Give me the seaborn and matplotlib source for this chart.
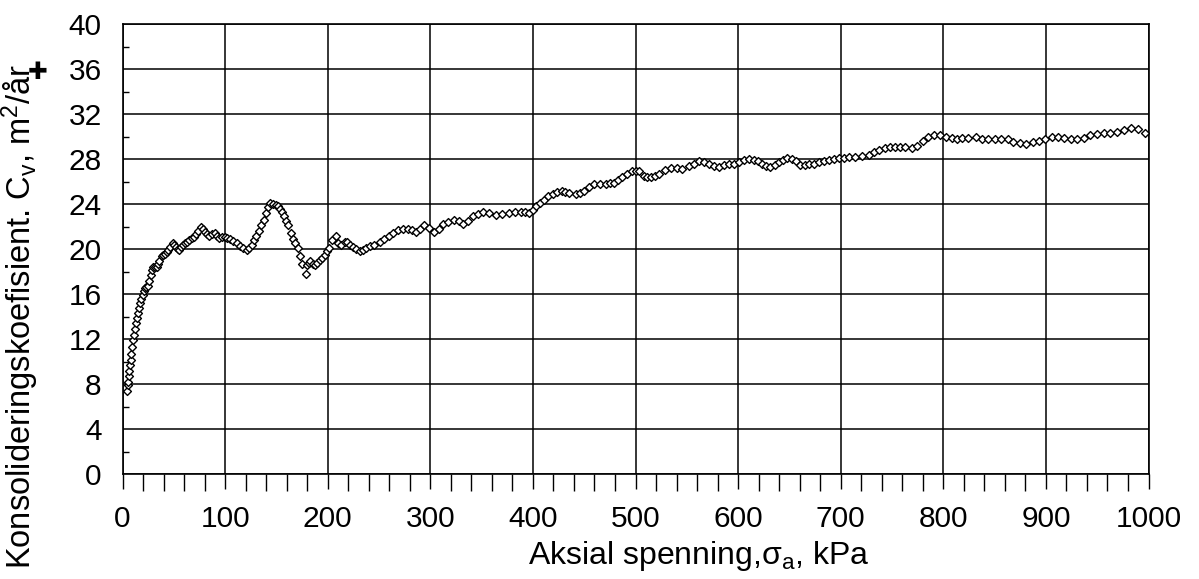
import matplotlib
matplotlib.use("Agg")
import matplotlib.pyplot as plt
from matplotlib.ticker import MultipleLocator
import pandas as pd
import seaborn as sns

# Axial stress (kPa) and consolidation coefficient Cv (m2/year)
stress = [4.7, 5.2, 5.6, 6.1, 6.6, 7.3, 8.0, 8.7, 9.5, 10.3, 11.2, 12.0, 12.8, 13.8, 14.8,
          15.9, 17.0, 18.3, 19.6, 20.8, 21.9, 23.2, 24.5, 26.1, 27.3, 28.4, 30.0, 31.6, 33.3,
          34.6, 35.8, 38.1, 39.7, 41.3, 43.0, 44.6, 46.7, 48.8, 50.4, 52.0, 53.7, 55.3, 57.0,
          58.6, 60.5, 62.5, 64.9, 67.3, 69.4, 71.5, 73.8, 76.1, 78.2, 80.3, 82.4, 84.4, 87.2,
          90.0, 92.1, 94.2, 97.0, 99.7, 102.2, 104.6, 107.8, 111.1, 114.3, 117.5, 121.4, 123.5,
          125.7, 128.1, 130.5, 133.0, 135.4, 137.5, 139.6, 142.0, 144.2, 146.8, 149.3, 151.2,
          153.2, 155.3, 157.4, 159.4, 161.3, 163.9, 165.8, 167.8, 171.0, 172.7, 175.3, 178.5,
          179.8, 181.5, 183.1, 185.2, 187.3, 189.7, 192.1, 194.5, 197.0, 199.2, 201.2, 204.5,
          207.7, 209.9, 213.2, 216.4, 219.0, 221.5, 224.5, 228.0, 231.7, 234.5, 237.5, 240.8,
          245.5, 250.5, 255.0, 260.2, 264.0, 268.3, 273.0, 278.0, 282.0, 286.2, 290.0, 294.3,
          299.0, 304.0, 308.0, 312.1, 317.5, 323.4, 328.0, 332.2, 336.5, 341.2, 346.0, 351.0,
          357.5, 364.0, 370.0, 377.0, 383.0, 388.3, 392.5, 396.4, 400.0, 403.0, 407.0, 411.0,
          415.0, 419.1, 423.5, 428.2, 431.5, 435.3, 441.8, 446.0, 449.9, 455.0, 459.6, 465.0,
          471.0, 475.0, 479.1, 483.0, 487.2, 492.0, 496.9, 500.2, 503.4, 508.3, 511.5, 514.8,
          518.5, 522.9, 528.5, 534.2, 540.0, 545.5, 552.0, 557.0, 561.8, 566.5, 571.5, 576.5,
          581.2, 586.0, 591.0, 596.0, 600.7, 605.5, 610.4, 615.3, 619.5, 623.4, 627.5, 631.5,
          635.5, 639.6, 643.5, 647.7, 652.5, 656.5, 660.7, 664.8, 668.8, 673.5, 678.5, 683.5,
          688.2, 693.0, 698.0, 703.0, 707.7, 714.0, 720.6, 727.1, 732.0, 736.9, 743.4, 748.5,
          753.1, 758.0, 762.8, 769.3, 774.8, 780.0, 785.5, 791.3, 796.9, 802.7, 808.0, 813.0,
          818.5, 824.4, 831.5, 838.0, 844.0, 850.4, 856.5, 862.7, 868.2, 874.7, 880.6, 887.0,
          893.2, 899.0, 905.5, 912.0, 917.8, 924.3, 930.7, 937.0, 943.4, 949.9, 956.4, 962.8,
          969.4, 976.2, 982.7, 989.8, 996.2]
cv = [7.4, 7.9, 8.2, 8.7, 9.2, 9.7, 10.1, 10.7, 11.3, 11.9, 12.4, 12.9, 13.4, 13.9, 14.3,
      14.8, 15.2, 15.6, 15.9, 16.3, 16.5, 16.6, 16.7, 17.2, 17.7, 18.1, 18.4, 18.4, 18.4,
      18.7, 18.9, 19.4, 19.5, 19.6, 19.7, 19.9, 20.2, 20.5, 20.4, 20.2, 20.0, 19.9, 20.2,
      20.4, 20.5, 20.6, 20.8, 21.0, 21.1, 21.3, 21.6, 22.0, 21.8, 21.5, 21.3, 21.2, 21.3,
      21.4, 21.2, 21.0, 21.1, 21.1, 21.0, 20.9, 20.7, 20.5, 20.3, 20.1, 19.9, 20.1,
      20.4, 20.8, 21.2, 21.6, 22.1, 22.6, 23.2, 23.7, 24.1, 24.0, 23.9, 23.8,
      23.6, 23.3, 22.9, 22.5, 22.1, 21.4, 20.9, 20.5, 20.1, 19.4, 18.7, 17.8,
      18.6, 18.8, 18.9, 18.7, 18.6, 18.8, 19.0, 19.2, 19.5, 19.8, 20.1, 20.8,
      21.2, 20.5, 20.4, 20.6, 20.6, 20.4, 20.2, 20.0, 19.8, 19.9, 20.1, 20.3,
      20.4, 20.6, 20.9, 21.2, 21.4, 21.7, 21.8, 21.8, 21.7, 21.5, 21.8, 22.1,
      21.9, 21.5, 21.8, 22.2, 22.4, 22.6, 22.5, 22.2, 22.5, 22.9, 23.1, 23.3,
      23.2, 23.0, 23.1, 23.2, 23.3, 23.3, 23.3, 23.2, 23.5, 23.8, 24.1, 24.4,
      24.7, 24.9, 25.1, 25.2, 25.1, 25.0, 24.9, 25.0, 25.2, 25.5, 25.8, 25.8,
      25.8, 25.9, 25.9, 26.1, 26.4, 26.7, 26.9, 26.9, 26.9, 26.5, 26.4, 26.4,
      26.5, 26.7, 27.0, 27.2, 27.2, 27.1, 27.4, 27.6, 27.8, 27.7, 27.6, 27.4,
      27.3, 27.5, 27.6, 27.6, 27.7, 27.9, 28.0, 27.9, 27.8, 27.6, 27.4, 27.3,
      27.5, 27.7, 27.9, 28.1, 28.0, 27.8, 27.5, 27.5, 27.6, 27.6, 27.7, 27.8,
      27.9, 28.0, 28.1, 28.1, 28.2, 28.2, 28.3, 28.4, 28.6, 28.8, 29.0, 29.1,
      29.1, 29.1, 29.1, 29.0, 29.2, 29.6, 30.0, 30.1, 30.1, 30.0, 29.9, 29.8,
      29.9, 29.9, 30.0, 29.8, 29.8, 29.8, 29.8, 29.8, 29.5, 29.4, 29.3, 29.5,
      29.6, 29.8, 30.0, 30.0, 29.9, 29.8, 29.8, 29.9, 30.1, 30.2, 30.3, 30.3,
      30.4, 30.6, 30.8, 30.7, 30.3]

x_ticks = list(range(0, 1001, 100))
y_ticks = list(range(0, 41, 4))
x_label = "Aksial spenning,σ$_\\mathrm{a}$, kPa"
y_label = "Konsolideringskoefisient. C$_\\mathrm{v}$, m$^2$/år"

sns.set_theme(style="white")
plt.rcParams["font.family"] = ["Liberation Sans", "DejaVu Sans"]
plt.rcParams["mathtext.fontset"] = "custom"
plt.rcParams["mathtext.rm"] = "Liberation Sans"
plt.rcParams["mathtext.it"] = "Liberation Sans:italic"
plt.rcParams["mathtext.sf"] = "Liberation Sans"

fig = plt.figure(figsize=(11.99, 5.79), dpi=100)
ax = fig.add_axes([0.1022, 0.1813, 0.8557, 0.7772])

df = pd.DataFrame({"stress": stress, "cv": cv})
sns.scatterplot(data=df, x="stress", y="cv", marker="D", s=16, color="white",
                edgecolor="black", linewidth=1.0, ax=ax, zorder=3, legend=False)

ax.set_xlim(0, 1000)
ax.set_ylim(0, 40)
ax.set_xticks(x_ticks)
ax.set_yticks(y_ticks)
ax.set_xticklabels([str(t) for t in x_ticks])
ax.set_yticklabels([str(t) for t in y_ticks])
ax.xaxis.set_minor_locator(MultipleLocator(20))
ax.yaxis.set_minor_locator(MultipleLocator(2))
ax.grid(True, which="major", color="black", linewidth=1.1)
ax.set_axisbelow(True)

ax.tick_params(axis="x", which="major", direction="out", length=11, width=1.0,
               color="black", labelsize=21.5, pad=11, labelcolor="black", bottom=True)
ax.tick_params(axis="x", which="minor", direction="out", length=12, width=1.0,
               color="black", bottom=True)
ax.tick_params(axis="y", which="major", length=0, labelsize=21.5, pad=15, labelcolor="black", left=True)
ax.tick_params(axis="y", which="minor", direction="in", length=4, width=1.0,
               color="black", left=True)

for sp in ax.spines.values():
    sp.set_color("black")
    sp.set_linewidth(1.2)
    sp.set_visible(True)

ax.set_xlabel(x_label, fontsize=23, color="black")
ax.set_ylabel(y_label, fontsize=23.5, color="black")
ax.xaxis.set_label_coords(0.562, -0.145)
ax.yaxis.set_label_coords(-0.079, 0.351)

fig.text(38 / 1199, 1 - 72 / 579, "✚", fontsize=17, ha="center", va="center",
         family="DejaVu Sans", color="black")

fig.savefig("out.png", dpi=100)
